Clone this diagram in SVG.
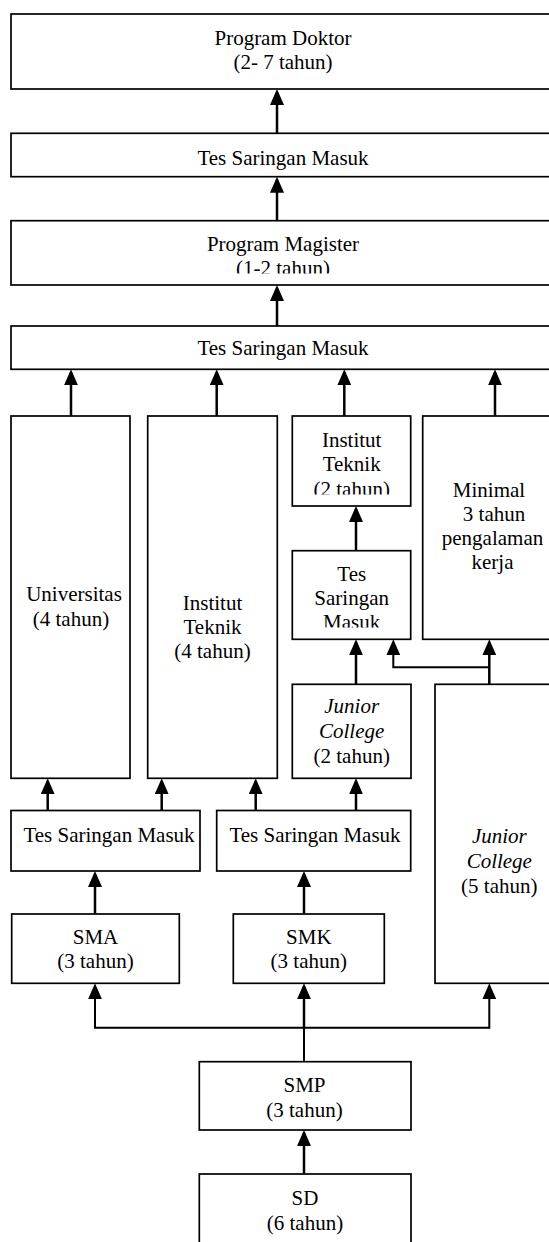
<svg xmlns="http://www.w3.org/2000/svg" width="549" height="1242" viewBox="0 0 549 1242">
<style>
.box{fill:#fff;stroke:#000;stroke-width:1.7}
.t{font-family:"Liberation Serif","Times New Roman",serif;font-size:21px;fill:#000;text-anchor:middle}
.i{font-style:italic}
.c{fill:none;stroke:#000;stroke-width:2.5}
.h{fill:none;stroke:#000;stroke-width:2}
</style>
<defs>
<marker id="ah" markerUnits="userSpaceOnUse" markerWidth="16" markerHeight="14" viewBox="0 0 16 14" refX="13" refY="7" orient="auto">
<path d="M0,0 L16,7 L0,14 z" fill="#000"/>
</marker>
<clipPath id="clipMag"><rect x="0" y="0" width="549" height="273.5"/></clipPath>
<clipPath id="clipIT2"><rect x="0" y="0" width="549" height="494.5"/></clipPath>
<clipPath id="clipTS"><rect x="0" y="0" width="549" height="627.5"/></clipPath>
</defs>
<rect width="549" height="1242" fill="#fff"/>

<g id="connectors">
<line class="c" x1="277" y1="133.3" x2="277" y2="92" marker-end="url(#ah)"/>
<line class="c" x1="277" y1="220.7" x2="277" y2="179.7" marker-end="url(#ah)"/>
<line class="c" x1="277" y1="326" x2="277" y2="288" marker-end="url(#ah)"/>
<line class="c" x1="71" y1="416" x2="71" y2="372.3" marker-end="url(#ah)"/>
<line class="c" x1="216.7" y1="416" x2="216.7" y2="372.3" marker-end="url(#ah)"/>
<line class="c" x1="344.3" y1="416" x2="344.3" y2="372.3" marker-end="url(#ah)"/>
<line class="c" x1="495" y1="416" x2="495" y2="372.3" marker-end="url(#ah)"/>
<line class="c" x1="356" y1="550.7" x2="356" y2="509" marker-end="url(#ah)"/>
<line class="c" x1="356" y1="684.3" x2="356" y2="642.3" marker-end="url(#ah)"/>
<line class="c" x1="489.3" y1="684.3" x2="489.3" y2="642.3" marker-end="url(#ah)"/>
<polyline class="h" points="489.3,667.3 393.3,667.3 393.3,642.3" marker-end="url(#ah)"/>
<line class="c" x1="47.7" y1="810.5" x2="47.7" y2="781.3" marker-end="url(#ah)"/>
<line class="c" x1="161.7" y1="810.5" x2="161.7" y2="781.3" marker-end="url(#ah)"/>
<line class="c" x1="255.7" y1="810.5" x2="255.7" y2="781.3" marker-end="url(#ah)"/>
<line class="c" x1="356" y1="810.5" x2="356" y2="781.3" marker-end="url(#ah)"/>
<line class="c" x1="95" y1="914" x2="95" y2="874" marker-end="url(#ah)"/>
<line class="c" x1="304" y1="914" x2="304" y2="874" marker-end="url(#ah)"/>
<line class="h" x1="304" y1="1061.7" x2="304" y2="1027.7"/>
<line class="c" x1="304" y1="1027.7" x2="304" y2="986.3" marker-end="url(#ah)"/>
<polyline class="h" points="304,1027.7 95,1027.7 95,986.3" marker-end="url(#ah)"/>
<polyline class="h" points="304,1027.7 489.3,1027.7 489.3,986.3" marker-end="url(#ah)"/>
<line class="c" x1="304" y1="1174" x2="304" y2="1133" marker-end="url(#ah)"/>
</g>

<g id="doktor">
<rect class="box" x="11" y="14" width="560" height="75"/>
<text class="t" x="283" y="45">Program Doktor</text>
<text class="t" x="283" y="69">(2- 7 tahun)</text>
</g>
<g id="tes1">
<rect class="box" x="11" y="133.3" width="560" height="43.4"/>
<text class="t" x="283" y="165">Tes Saringan Masuk</text>
</g>
<g id="magister">
<rect class="box" x="11" y="220.7" width="560" height="64.3"/>
<text class="t" x="283" y="250.7">Program Magister</text>
<text class="t" x="283" y="275" clip-path="url(#clipMag)">(1-2 tahun)</text>
</g>
<g id="tes2">
<rect class="box" x="11" y="326" width="560" height="43.3"/>
<text class="t" x="283" y="355">Tes Saringan Masuk</text>
</g>
<g id="universitas">
<rect class="box" x="11" y="416" width="119" height="362.3"/>
<text class="t" x="74" y="601">Universitas</text>
<text class="t" x="71" y="625.5">(4 tahun)</text>
</g>
<g id="institut4">
<rect class="box" x="147.7" y="416" width="129.6" height="362.3"/>
<text class="t" x="212.5" y="610">Institut</text>
<text class="t" x="212.5" y="634">Teknik</text>
<text class="t" x="212.5" y="658">(4 tahun)</text>
</g>
<g id="institut2">
<rect class="box" x="292.3" y="416" width="118.4" height="90"/>
<text class="t" x="351.7" y="446.7">Institut</text>
<text class="t" x="351.7" y="471.3">Teknik</text>
<text class="t" x="351.7" y="496" clip-path="url(#clipIT2)">(2 tahun)</text>
</g>
<g id="minimal">
<rect class="box" x="422.7" y="416" width="148.3" height="223.3"/>
<text class="t" x="489" y="496.7">Minimal</text>
<text class="t" x="494" y="520.5">3 tahun</text>
<text class="t" x="492.5" y="544.5">pengalaman</text>
<text class="t" x="492.5" y="568.5">kerja</text>
</g>
<g id="tes-small">
<rect class="box" x="292.3" y="550.7" width="118.4" height="88.6"/>
<text class="t" x="351.7" y="581">Tes</text>
<text class="t" x="351.7" y="605">Saringan</text>
<text class="t" x="351.7" y="629" clip-path="url(#clipTS)">Masuk</text>
</g>
<g id="jc2">
<rect class="box" x="292.3" y="684.3" width="118.7" height="94"/>
<text class="t i" x="351.7" y="713.3">Junior</text>
<text class="t i" x="351.7" y="738.3">College</text>
<text class="t" x="351.7" y="763.3">(2 tahun)</text>
</g>
<g id="jc5">
<rect class="box" x="435" y="684.3" width="136" height="299"/>
<text class="t i" x="499.3" y="843.3">Junior</text>
<text class="t i" x="499.3" y="868.3">College</text>
<text class="t" x="499.3" y="892.7">(5 tahun)</text>
</g>
<g id="tes-left">
<rect class="box" x="11" y="810.5" width="189" height="60.5"/>
<text class="t" x="109" y="841.7">Tes Saringan Masuk</text>
</g>
<g id="tes-right">
<rect class="box" x="216.7" y="810.5" width="194" height="60.5"/>
<text class="t" x="315" y="841.7">Tes Saringan Masuk</text>
</g>
<g id="sma">
<rect class="box" x="11.7" y="914" width="167.6" height="69.3"/>
<text class="t" x="95.5" y="944.3">SMA</text>
<text class="t" x="95.5" y="968.3">(3 tahun)</text>
</g>
<g id="smk">
<rect class="box" x="233.3" y="914" width="151" height="69.3"/>
<text class="t" x="308.8" y="944.3">SMK</text>
<text class="t" x="308.8" y="968.3">(3 tahun)</text>
</g>
<g id="smp">
<rect class="box" x="199.3" y="1061.7" width="211.7" height="68.3"/>
<text class="t" x="304.5" y="1091.7">SMP</text>
<text class="t" x="304.5" y="1117">(3 tahun)</text>
</g>
<g id="sd">
<rect class="box" x="199.3" y="1174" width="211.7" height="90"/>
<text class="t" x="305" y="1205">SD</text>
<text class="t" x="305" y="1230">(6 tahun)</text>
</g>
</svg>
